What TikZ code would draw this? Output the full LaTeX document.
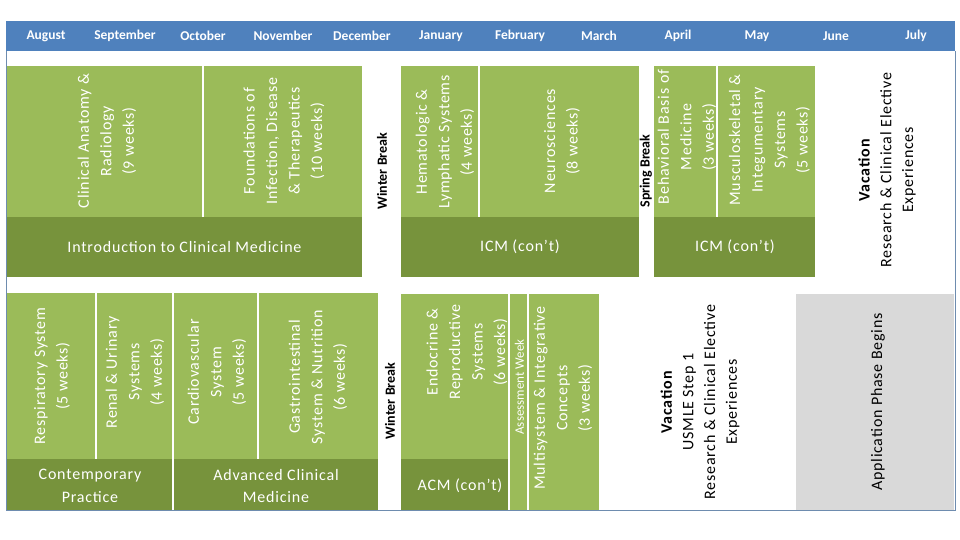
\documentclass[tikz,border=0pt]{standalone}
\usepackage{fontspec}
\setmainfont{Carlito}
\newfontfamily\calib[LetterSpace=5]{Carlito}
\newfontfamily\calibn{Carlito}
\definecolor{hdrblue}{RGB}{79,129,189}
\definecolor{lgreen}{RGB}{155,187,89}
\definecolor{dgreen}{RGB}{119,147,60}
\definecolor{gbox}{RGB}{217,217,217}
\definecolor{framec}{RGB}{110,140,175}
\newcommand\bodyfont{\calib\fontsize{16}{22.5}\selectfont}
\newcommand\vacfont{\calib\fontsize{16}{21.7}\selectfont}
\newcommand\brkfont{\calibn\bfseries\fontsize{14}{16}\selectfont}
\newcommand\monfont{\calibn\bfseries\fontsize{13.5}{16}\selectfont}
\newcommand\aswfont{\calibn\fontsize{13}{15}\selectfont}
\begin{document}
\begin{tikzpicture}[x=1pt,y=-1pt,
  blk/.style={inner sep=0pt, outer sep=0pt, anchor=north west},
  lg/.style={blk, fill=lgreen},
  dg/.style={blk, fill=dgreen},
  gy/.style={blk, fill=gbox},
  wt/.style={text=white, font=\bodyfont, align=center, inner sep=0pt},
  bk/.style={text=black, font=\vacfont, align=center, inner sep=0pt},
  brk/.style={text=black, font=\brkfont, inner sep=0pt, rotate=90},
  mon/.style={text=white, font=\monfont, inner sep=0pt}]
\useasboundingbox (0,0) rectangle (960,540);
\fill[white] (0,0) rectangle (960,540);
% header
\node[blk, fill=hdrblue, minimum width=949pt, minimum height=30pt] (hdr) at (6,21) {};
\node[mon] (m1) at (46,36) {August};
\node[mon] (m2) at (125,36) {September};
\node[mon] (m3) at (203,36) {October};
\node[mon] (m4) at (283,36) {November};
\node[mon] (m5) at (362,36) {December};
\node[mon] (m6) at (441,36) {January};
\node[mon] (m7) at (520,36) {February};
\node[mon] (m8) at (599,36) {March};
\node[mon] (m9) at (678,36) {April};
\node[mon] (m10) at (757,36) {May};
\node[mon] (m11) at (836,36) {June};
\node[mon] (m12) at (916,36) {July};
% top row blocks
\node[lg, minimum width=195pt, minimum height=151pt] (ca) at (7,66) {};
\node[lg, minimum width=158pt, minimum height=151pt] (fi) at (204,66) {};
\node[dg, minimum width=355pt, minimum height=60pt] (icma) at (7,217) {};
\node[lg, minimum width=77pt, minimum height=151pt] (hem) at (401,66) {};
\node[lg, minimum width=159pt, minimum height=151pt] (neu) at (480,66) {};
\node[dg, minimum width=238pt, minimum height=60pt] (icmb) at (401,217) {};
\node[lg, minimum width=62pt, minimum height=151pt] (beh) at (654,66) {};
\node[lg, minimum width=97pt, minimum height=151pt] (mus) at (718,66) {};
\node[dg, minimum width=161pt, minimum height=60pt] (icmc) at (654,217) {};
% top row texts
\node[wt, rotate=90] (catx) at (107,141) {Clinical Anatomy \&\\Radiology\\(9 weeks)};
\node[wt, rotate=90] (fitx) at (284,141) {Foundations of\\Infection, Disease\\\& Therapeutics\\(10 weeks)};
\node[wt] (icmatx) at (184.5,247) {Introduction to Clinical Medicine};
\node[brk] (wba) at (382,171) {Winter Break};
\node[wt, rotate=90] (hemtx) at (445,142) {Hematologic \&\\Lymphatic Systems\\(4 weeks)};
\node[wt, rotate=90] (neutx) at (562,141) {Neurosciences\\(8 weeks)};
\node[wt] (icmbtx) at (520,247) {ICM (con’t)};
\node[brk] (spb) at (646,171) {Spring Break};
\node[wt, rotate=90] (behtx) at (687,137) {Behavioral Basis of\\Medicine\\(3 weeks)};
\node[wt, rotate=90] (mustx) at (769.5,140) {Musculoskeletal \&\\Integumentary\\Systems\\(5 weeks)};
\node[wt] (icmctx) at (735,247) {ICM (con’t)};
\node[bk, rotate=90] (vaca) at (887,170) {\textbf{Vacation}\\Research \& Clinical Elective\\Experiences};
% bottom row blocks
\node[lg, minimum width=88pt, minimum height=166pt] (res) at (7,293) {};
\node[lg, minimum width=75pt, minimum height=166pt] (ren) at (97,293) {};
\node[lg, minimum width=83pt, minimum height=166pt] (car) at (174,293) {};
\node[lg, minimum width=119pt, minimum height=166pt] (gas) at (259,293) {};
\node[dg, minimum width=165pt, minimum height=51pt] (cp) at (7,459) {};
\node[dg, minimum width=204pt, minimum height=51pt] (acm) at (174,459) {};
\node[lg, minimum width=107pt, minimum height=165pt] (endo) at (401,294) {};
\node[dg, minimum width=107pt, minimum height=51pt] (acmb) at (401,459) {};
\node[lg, minimum width=17pt, minimum height=216pt] (asw) at (510,294) {};
\node[lg, minimum width=70pt, minimum height=216pt] (mult) at (529,294) {};
\node[gy, minimum width=158pt, minimum height=216pt] (app) at (796,294) {};
% bottom row texts
\node[wt, rotate=90] (restx) at (52,376) {Respiratory System\\(5 weeks)};
\node[wt, rotate=90] (rentx) at (135,372) {Renal \& Urinary\\Systems\\(4 weeks)};
\node[wt, rotate=90] (cartx) at (217,372) {Cardiovascular\\System\\(5 weeks)};
\node[wt, rotate=90] (gastx) at (318,377) {Gastrointestinal\\System \& Nutrition\\(6 weeks)};
\node[wt] (cptx) at (90,486) {Contemporary\\Practice};
\node[wt] (acmtx) at (276,486) {Advanced Clinical\\Medicine};
\node[brk] (wbb) at (390,401) {Winter Break};
\node[wt, rotate=90] (endotx) at (467,352) {Endocrine \&\\Reproductive\\Systems\\(6 weeks)};
\node[wt] (acmbtx) at (460,486) {ACM (con’t)};
\node[wt, font=\aswfont, rotate=90] (aswtx) at (519.5,387) {Assessment Week};
\node[wt, rotate=90] (multtx) at (563,398) {Multisystem \& Integrative\\Concepts\\(3 weeks)};
\node[bk, rotate=90] (vacb) at (700,402) {\textbf{Vacation}\\USMLE Step 1\\Research \& Clinical Elective\\Experiences};
\node[bk, rotate=90] (apptx) at (878,402) {Application Phase Begins};
% frame
\coordinate (fbl) at (6,510);
\coordinate (fbr) at (955,510);
\draw[framec, line width=1pt] (hdr.south west) -- (fbl) -- (fbr) -- (hdr.south east);
\end{tikzpicture}
\end{document}
